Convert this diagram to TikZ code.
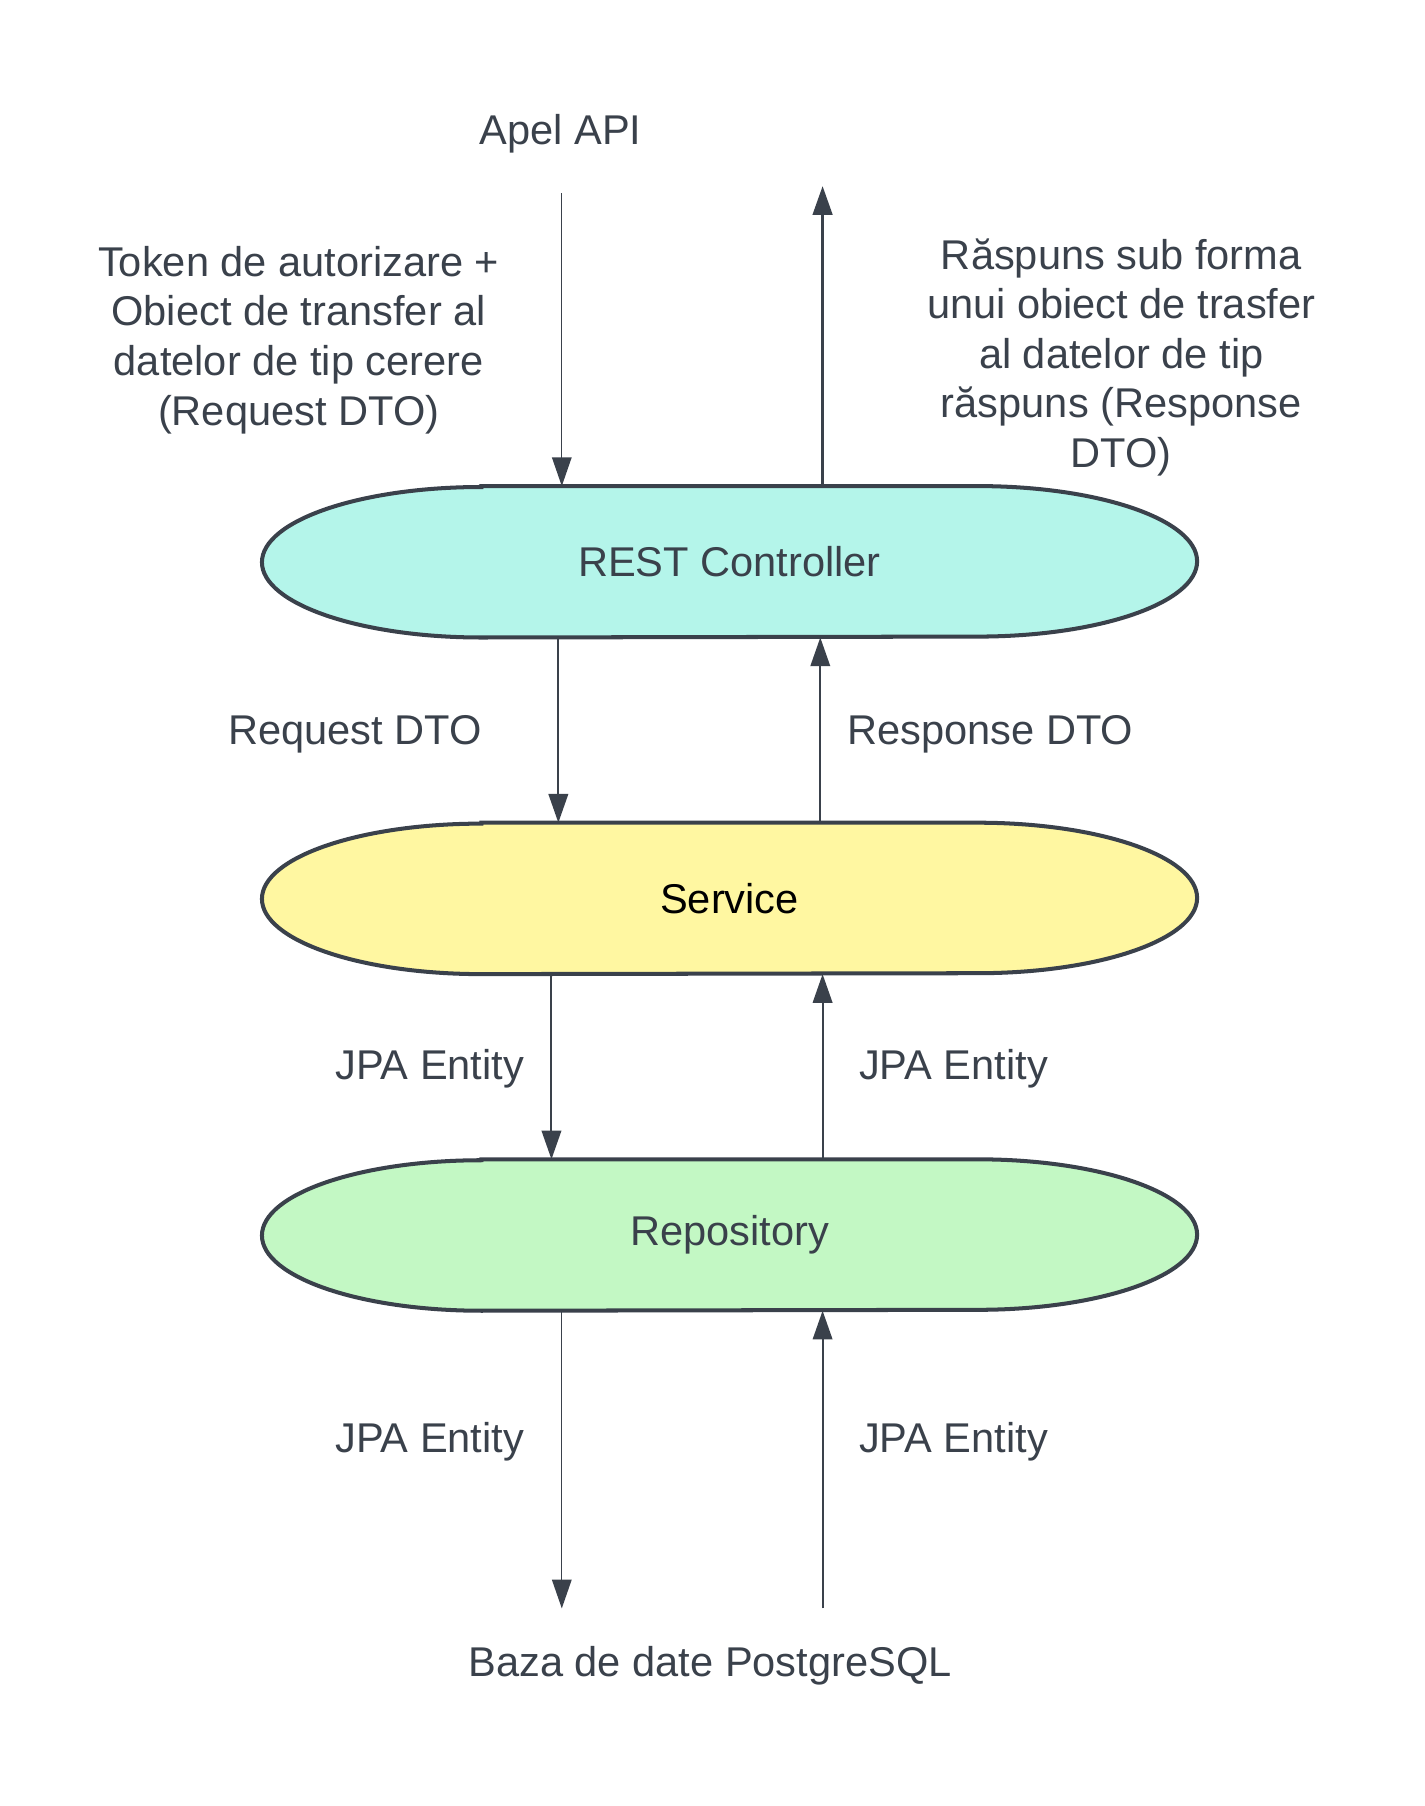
\documentclass[tikz,border=0pt]{standalone}
\usepackage{fontspec}
\setmainfont{Liberation Sans}
\usetikzlibrary{arrows.meta,backgrounds}
\definecolor{inkgray}{HTML}{3A414B}
\definecolor{ctlfill}{HTML}{B4F5EA}
\definecolor{svcfill}{HTML}{FFF7A1}
\definecolor{repofill}{HTML}{C3F8C4}
\tikzset{
  layer/.style={draw=none,minimum width=407pt,minimum height=65.5pt,inner sep=0pt},
  label/.style={draw=none,text=inkgray,align=center,inner sep=0pt},
  flow/.style={inkgray,-{Triangle[length=12.5pt,width=8.5pt]}},
}
% outline of one layer, round ends like half ellipses
\newcommand{\layeroutline}[2]{%
  \draw[inkgray,line width=1.75pt,fill=#2]
    ([xshift=-108pt]#1.north) -- ([xshift=108pt]#1.north)
    arc[start angle=90,end angle=-90,x radius=95.5pt,y radius=32.75pt]
    -- ([xshift=-108pt]#1.south)
    arc[start angle=270,end angle=90,x radius=95.5pt,y radius=32.75pt] -- cycle;}
\begin{document}
\begin{tikzpicture}[x=0.5pt,y=0.5pt,font=\fontsize{18.1}{21.6}\selectfont]
\useasboundingbox (0,0) rectangle (1240,-1572);
%%
\node (ctl) at (635,-489) [layer,text=inkgray] {REST Controller};
\node (svc) at (635,-782) [layer,text=black] {Service};
\node (repo) at (635,-1075) [layer,text=inkgray] {Repository};
\begin{pgfonlayer}{background}
  \layeroutline{ctl}{ctlfill}
  \layeroutline{svc}{svcfill}
  \layeroutline{repo}{repofill}
\end{pgfonlayer}
%
\node (api) at (488,-116) [label] {Apel API};
\node (reqtxt) at (260,-296) [label] {Token de autorizare +\\Obiect de transfer al\\datelor de tip cerere\\(Request DTO)};
\node (restxt) at (976,-311) [label] {Răspuns sub forma\\unui obiect de trasfer\\al datelor de tip\\răspuns (Response\\DTO)};
\node (reqdto) at (309,-639) [label] {Request DTO};
\node (resdto) at (862,-639) [label] {Response DTO};
\node (jpa_1) at (374,-930) [label] {JPA Entity};
\node (jpa_2) at (830,-930) [label] {JPA Entity};
\node (jpa_3) at (374,-1255) [label] {JPA Entity};
\node (jpa_4) at (830,-1255) [label] {JPA Entity};
\node (db) at (618,-1450) [label] {Baza de date PostgreSQL};
%
\coordinate (api_in) at (489,-168);
\coordinate (res_out) at (716,-162);
\coordinate (db_out) at (489,-1400);
\coordinate (db_in) at (716,-1400);
%
\draw [flow,line width=0.6pt] (api_in) -- ([xshift=-73pt]ctl.north);
\draw [flow,line width=1.2pt] ([xshift=40.5pt]ctl.north) -- (res_out);
\draw [flow,line width=0.9pt] ([xshift=-74.5pt]ctl.south) -- ([xshift=-74.5pt]svc.north);
\draw [flow,line width=0.9pt] ([xshift=39.5pt]svc.north) -- ([xshift=39.5pt]ctl.south);
\draw [flow,line width=0.9pt] ([xshift=-77.5pt]svc.south) -- ([xshift=-77.5pt]repo.north);
\draw [flow,line width=0.9pt] ([xshift=40.5pt]repo.north) -- ([xshift=40.5pt]svc.south);
\draw [flow,line width=0.6pt] ([xshift=-73pt]repo.south) -- (db_out);
\draw [flow,line width=0.9pt] (db_in) -- ([xshift=40.5pt]repo.south);
%
\end{tikzpicture}
\end{document}
